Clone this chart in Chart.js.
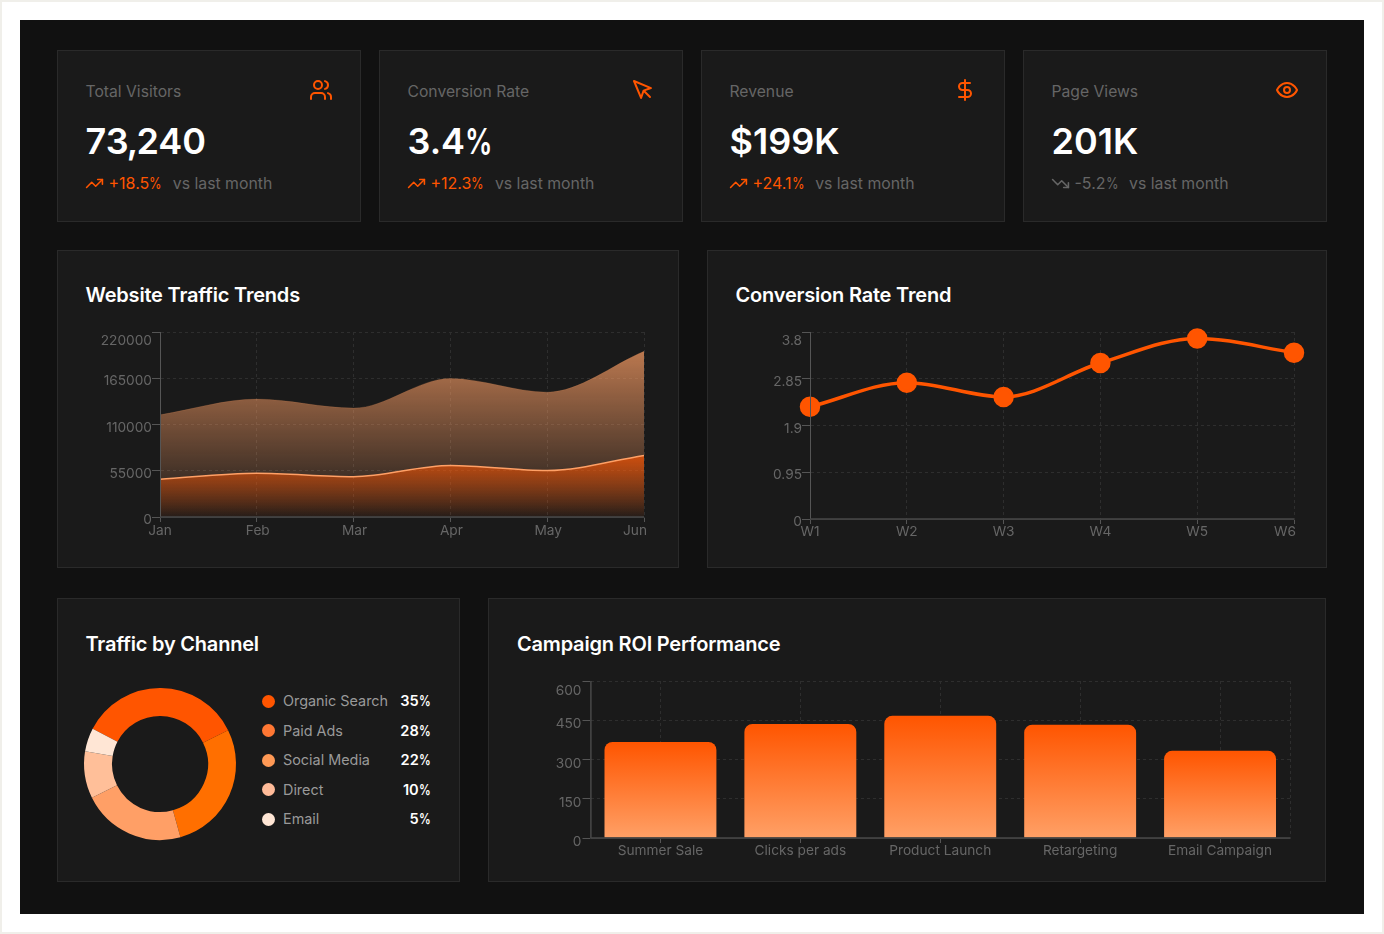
<!DOCTYPE html>
<html lang="en">
<head>
<meta charset="utf-8">
<title>Marketing Dashboard</title>
<script src="https://cdn.jsdelivr.net/npm/chart.js@4/dist/chart.umd.min.js"></script>
<style>
  * { box-sizing: border-box; margin: 0; padding: 0; }
  html, body { width: 1384px; height: 934px; overflow: hidden; background: #fff; }
  body { position: relative; font-family: Inter, sans-serif; }
  .frame { position: absolute; inset: 0; border: 2px solid #f0efea; }
  .page { position: absolute; left: 20px; top: 20px; width: 1344px; height: 894px; background: #111111; }
  .card { position: absolute; background: #1a1a1a; border: 1px solid #2a2a2a; }
  .abs { position: absolute; white-space: nowrap; line-height: 1; }
  .kpi-label { font-size: 15.7px; color: #666; }
  .kpi-value { font-size: 36px; font-weight: 600; color: #fff; }
  .kpi-delta { font-size: 16px; color: #ff5500; }
  .kpi-delta.down { color: #666; }
  .kpi-note { font-size: 15.8px; color: #666; }
  .title { font-size: 20px; font-weight: 600; color: #fff; letter-spacing: -0.2px; }
  svg.icon { position: absolute; fill: none; stroke-width: 2; stroke-linecap: round; stroke-linejoin: round; }
  canvas { position: absolute; }
  .dot { position: absolute; width: 13px; height: 13px; border-radius: 50%; }
  .leg-name { font-size: 14.4px; color: #999; }
  .leg-pct { font-size: 14.6px; font-weight: 600; color: #fff; text-align: right; width: 50px; }
  /* Slimmer percent sign and comma in the figures */
  .slim-pct { display: inline-block; transform: scaleX(0.76); transform-origin: left; margin-right: -0.24em; }
  .kpi-delta .slim-pct, .leg-pct .slim-pct { transform: scaleX(0.8); margin-right: -0.2em; }
  .slim-comma { margin: 0 -0.05em; }
</style>
</head>
<body>
<div class="frame"></div>
<div class="page"></div>
<div id="root"></div>
<script>
// Chart values
const trafficMonths = ['Jan', 'Feb', 'Mar', 'Apr', 'May', 'Jun'];
const pageViewSeries = [121500, 140200, 129500, 164800, 148500, 197000];
const visitorSeries = [44900, 52000, 48000, 61200, 55200, 73240];
const trafficTicks = [0, 55000, 110000, 165000, 220000];

const conversionWeeks = ['W1', 'W2', 'W3', 'W4', 'W5', 'W6'];
const conversionValues = [2.28, 2.77, 2.48, 3.17, 3.67, 3.38];
const conversionTicks = [0, 0.95, 1.9, 2.85, 3.8];

const channelNames = ['Organic Search', 'Paid Ads', 'Social Media', 'Direct', 'Email'];
const channelShares = [35, 28, 22, 10, 5];
const channelArcColors = ['#ff5500', '#ff6f00', '#ff9f66', '#ffbf99', '#ffe6d5'];
const channelDotColors = ['#ff5500', '#ff7733', '#ff9955', '#ffbb99', '#ffe6d5'];

const campaignNames = ['Summer Sale', 'Clicks per ads', 'Product Launch', 'Retargeting', 'Email Campaign'];
const campaignRoi = [367, 436, 467, 433, 333];
const campaignTicks = [0, 150, 300, 450, 600];

const kpiLabels = ['Total Visitors', 'Conversion Rate', 'Revenue', 'Page Views'];
const kpiValues = ['73,240', '3.4%', '$199K', '201K'];
const kpiDeltas = ['+18.5%', '+12.3%', '+24.1%', '-5.2%'];

const ICONS = {
  users: '<path d="M16 21v-2a4 4 0 0 0-4-4H6a4 4 0 0 0-4 4v2"/><circle cx="9" cy="7" r="4"/><path d="M22 21v-2a4 4 0 0 0-3-3.87"/><path d="M16 3.13a4 4 0 0 1 0 7.75"/>',
  pointer: '<path d="m3 3 7.07 16.97 2.51-7.39 7.39-2.51L3 3z"/><path d="m13 13 6 6"/>',
  dollar: '<line x1="12" x2="12" y1="2" y2="22"/><path d="M17 5H9.5a3.5 3.5 0 0 0 0 7h5a3.5 3.5 0 0 1 0 7H6"/>',
  eye: '<path d="M2 12s3-7 10-7 10 7 10 7-3 7-10 7-10-7-10-7Z"/><circle cx="12" cy="12" r="3"/>',
  up: '<polyline points="22 7 13.5 15.5 8.5 10.5 2 17"/><polyline points="16 7 22 7 22 13"/>',
  down: '<polyline points="22 17 13.5 8.5 8.5 13.5 2 7"/><polyline points="16 17 22 17 22 11"/>'
};
const root = document.getElementById('root');

function el(cls, left, top, text, extra) {
  const d = document.createElement('div');
  d.className = cls;
  d.style.left = left + 'px';
  d.style.top = top + 'px';
  if (text !== undefined) {
    d.innerHTML = String(text)
      .replace('%', '<span class="slim-pct">%</span>')
      .replace(',', '<span class="slim-comma">,</span>');
  }
  if (extra) Object.assign(d.style, extra);
  root.appendChild(d);
  return d;
}
function card(l, t, r, b) {
  el('card', l, t, undefined, { width: (r - l) + 'px', height: (b - t) + 'px' });
}
function icon(name, left, top, size, color) {
  root.insertAdjacentHTML('beforeend',
    `<svg class="icon" viewBox="0 0 24 24" width="${size}" height="${size}" stroke="${color}" style="left:${left}px;top:${top}px">${ICONS[name]}</svg>`);
}

// KPI row
const kpiLefts = [57, 379, 701, 1023];
const kpiIcons = ['users', 'pointer', 'dollar', 'eye'];
kpiLefts.forEach((x, i) => {
  card(x, 50, x + 304, 222);
  el('abs kpi-label', x + 28.5, 84, kpiLabels[i]);
  el('abs kpi-value', x + 28.5, 123, kpiValues[i]);
  icon(kpiIcons[i], x + 251.5, 78, 24, '#ff5500');
  const falling = kpiDeltas[i][0] === '-';
  icon(falling ? 'down' : 'up', x + 28, 174, 19, falling ? '#666' : '#ff5500');
  const delta = el('abs kpi-delta' + (falling ? ' down' : ''), x + 51.5, 175, kpiDeltas[i]);
  el('abs kpi-note', x + 51.5 + delta.getBoundingClientRect().width + 11, 175.5, 'vs last month');
});

// Chart panels
card(57, 250, 679, 568);
el('abs title', 85.5, 285, 'Website Traffic Trends');
card(707, 250, 1327, 568);
el('abs title', 735.5, 285, 'Conversion Rate Trend');
card(57, 598, 460, 882);
el('abs title', 85.5, 634, 'Traffic by Channel');
card(488, 598, 1326, 882);
el('abs title', 517, 634, 'Campaign ROI Performance');

// Donut legend
const legendRowTops = [701, 730.5, 760, 789.5, 819];
channelNames.forEach((name, i) => {
  const c = legendRowTops[i];
  el('dot', 262, c - 6.5, undefined, { background: channelDotColors[i] });
  el('abs leg-name', 283, c - 7, name);
  el('abs leg-pct', 380.5, c - 7, channelShares[i] + '%');
});

function addCanvas(left, top, w, h) {
  const c = document.createElement('canvas');
  c.style.left = left + 'px';
  c.style.top = top + 'px';
  c.style.width = w + 'px';
  c.style.height = h + 'px';
  c.width = w;
  c.height = h;
  root.appendChild(c);
  return c;
}

Chart.defaults.font.family = 'Inter, sans-serif';
Chart.defaults.font.size = 13.7;
Chart.defaults.color = '#666';
Chart.defaults.animation = false;
Chart.defaults.responsive = false;

const AXIS = '#555';
const GRID = '#2e2e2e';

// Nudges tick labels after layout: the top label hangs below its tick, the rest sit a little low.
function labelNudge(id, xShift, topShift, restShift) {
  return {
    id,
    beforeDraw(chart) {
      chart.scales.x.getLabelItems().forEach((it, i) => {
        if (!it.nudged) { it.options.translation[0] += xShift(i); it.nudged = true; }
      });
      const items = chart.scales.y.getLabelItems();
      items.forEach((it, i) => {
        if (!it.nudged) {
          it.options.translation[1] += i === items.length - 1 ? topShift : restShift;
          it.nudged = true;
        }
      });
    }
  };
}
// Dashed line along the right edge of the plot area.
const rightEdge = {
  id: 'rightEdge',
  beforeDatasetsDraw(chart) {
    const { ctx, chartArea: a } = chart;
    ctx.save();
    ctx.strokeStyle = GRID;
    ctx.setLineDash([3, 3]);
    ctx.beginPath();
    ctx.moveTo(a.right + 0.5, a.top);
    ctx.lineTo(a.right + 0.5, a.bottom);
    ctx.stroke();
    ctx.restore();
  }
};
function axes(yMax, yTickValues, yWidth, xHeight, offset, xPadding, yPadding) {
  return {
    x: {
      offset,
      grid: { color: GRID, tickColor: AXIS, tickLength: 5, offset: false, tickBorderDash: [] },
      border: { color: GRID, dash: [3, 3], width: 1 },
      ticks: { color: '#666', padding: xPadding, maxRotation: 0, autoSkip: false },
      afterFit: s => { s.height = xHeight; }
    },
    y: {
      min: 0,
      max: yMax,
      afterBuildTicks: scale => { scale.ticks = yTickValues.map(v => ({ value: v })); },
      grid: { color: GRID, tickColor: AXIS, tickLength: 8, tickBorderDash: [] },
      border: { color: GRID, dash: [3, 3], width: 1 },
      ticks: { color: '#666', padding: yPadding, callback: v => String(v) },
      afterFit: s => { s.width = yWidth; }
    }
  };
}
// Draws axis baselines solid while the grid stays dashed.
const solidAxes = {
  id: 'solidAxes',
  afterDatasetsDraw(chart) {
    const { ctx, chartArea: a } = chart;
    ctx.save();
    ctx.strokeStyle = AXIS;
    ctx.lineWidth = 1;
    ctx.beginPath();
    ctx.moveTo(a.left + 0.5, a.top);
    ctx.lineTo(a.left + 0.5, a.bottom);
    ctx.stroke();
    ctx.strokeStyle = '#484848';
    ctx.lineWidth = 1.6;
    ctx.beginPath();
    ctx.moveTo(a.left, a.bottom);
    ctx.lineTo(a.right, a.bottom);
    ctx.stroke();
    ctx.restore();
  }
};
function basePlugins() {
  return { legend: { display: false }, tooltip: { enabled: false } };
}
function areaFill(values, topColor, bottomColor) {
  return ctx => {
    const { chart } = ctx;
    if (!chart.chartArea) return topColor;
    const y = chart.scales.y;
    const g = chart.ctx.createLinearGradient(0, y.getPixelForValue(Math.max(...values)), 0, y.getPixelForValue(0));
    g.addColorStop(0, topColor);
    g.addColorStop(1, bottomColor);
    return g;
  };
}

// Website Traffic Trends
new Chart(addCanvas(60, 320, 600, 240), {
  type: 'line',
  data: {
    labels: trafficMonths,
    datasets: [
      {
        data: visitorSeries,
        fill: 'origin',
        cubicInterpolationMode: 'monotone',
        borderColor: '#ffa066',
        borderWidth: 1.5,
        pointRadius: 0,
        backgroundColor: areaFill(visitorSeries, 'rgba(255,85,0,0.7)', 'rgba(255,85,0,0.05)')
      },
      {
        data: pageViewSeries,
        fill: 'origin',
        cubicInterpolationMode: 'monotone',
        borderColor: 'rgba(255,160,102,0.15)',
        borderWidth: 1,
        pointRadius: 0,
        backgroundColor: areaFill(pageViewSeries, 'rgba(255,160,102,0.7)', 'rgba(255,160,102,0)')
      }
    ]
  },
  options: {
    layout: { padding: { top: 12, right: 16, left: 0, bottom: 13 } },
    scales: axes(220000, trafficTicks, 100, 30, false, 1, 0),
    plugins: basePlugins()
  },
  plugins: [solidAxes, rightEdge, labelNudge('trafficLabels', i => (i === 5 ? -9 : i === 0 ? 0 : 1), 9, 3)]
});

// Conversion Rate Trend
new Chart(addCanvas(720, 320, 600, 240), {
  type: 'line',
  data: {
    labels: conversionWeeks,
    datasets: [{
      data: conversionValues,
      cubicInterpolationMode: 'monotone',
      borderColor: '#ff5500',
      borderWidth: 3.5,
      pointRadius: 8.5,
      pointBackgroundColor: '#ff5500',
      pointBorderColor: '#ff5500',
      clip: false
    }]
  },
  options: {
    layout: { padding: { top: 12, right: 26, left: 0, bottom: 11 } },
    scales: axes(3.8, conversionTicks, 90, 30, false, 0, 0),
    plugins: basePlugins()
  },
  plugins: [solidAxes, rightEdge, labelNudge('conversionLabels', i => (i === 5 ? -9 : 0), 9, 3)]
});

// Traffic by Channel
new Chart(addCanvas(70, 674, 180, 180), {
  type: 'doughnut',
  data: {
    labels: channelNames,
    datasets: [{ data: channelShares, backgroundColor: channelArcColors, borderWidth: 0 }]
  },
  options: {
    radius: 76,
    cutout: '63.2%',
    rotation: -62.4,
    plugins: basePlugins()
  }
});

// Campaign ROI Performance
const barGradient = ctx => {
  const { chart, dataIndex } = ctx;
  if (!chart.chartArea) return '#ff5500';
  const y = chart.scales.y;
  const g = chart.ctx.createLinearGradient(0, y.getPixelForValue(campaignRoi[dataIndex]), 0, y.getPixelForValue(0));
  g.addColorStop(0, '#ff5500');
  g.addColorStop(1, '#ffa066');
  return g;
};
new Chart(addCanvas(512, 670, 800, 200), {
  type: 'bar',
  data: {
    labels: campaignNames,
    datasets: [{
      data: campaignRoi,
      backgroundColor: barGradient,
      barPercentage: 0.8,
      categoryPercentage: 1,
      borderRadius: { topLeft: 8, topRight: 8 },
      borderSkipped: 'bottom'
    }]
  },
  options: {
    layout: { padding: { top: 11, right: 22, left: 0, bottom: 2 } },
    scales: axes(600, campaignTicks, 78.5, 30, true, 0, 1),
    plugins: basePlugins()
  },
  plugins: [solidAxes, rightEdge, labelNudge('campaignLabels', () => 0, 10, 4)]
});
</script>
</body>
</html>
